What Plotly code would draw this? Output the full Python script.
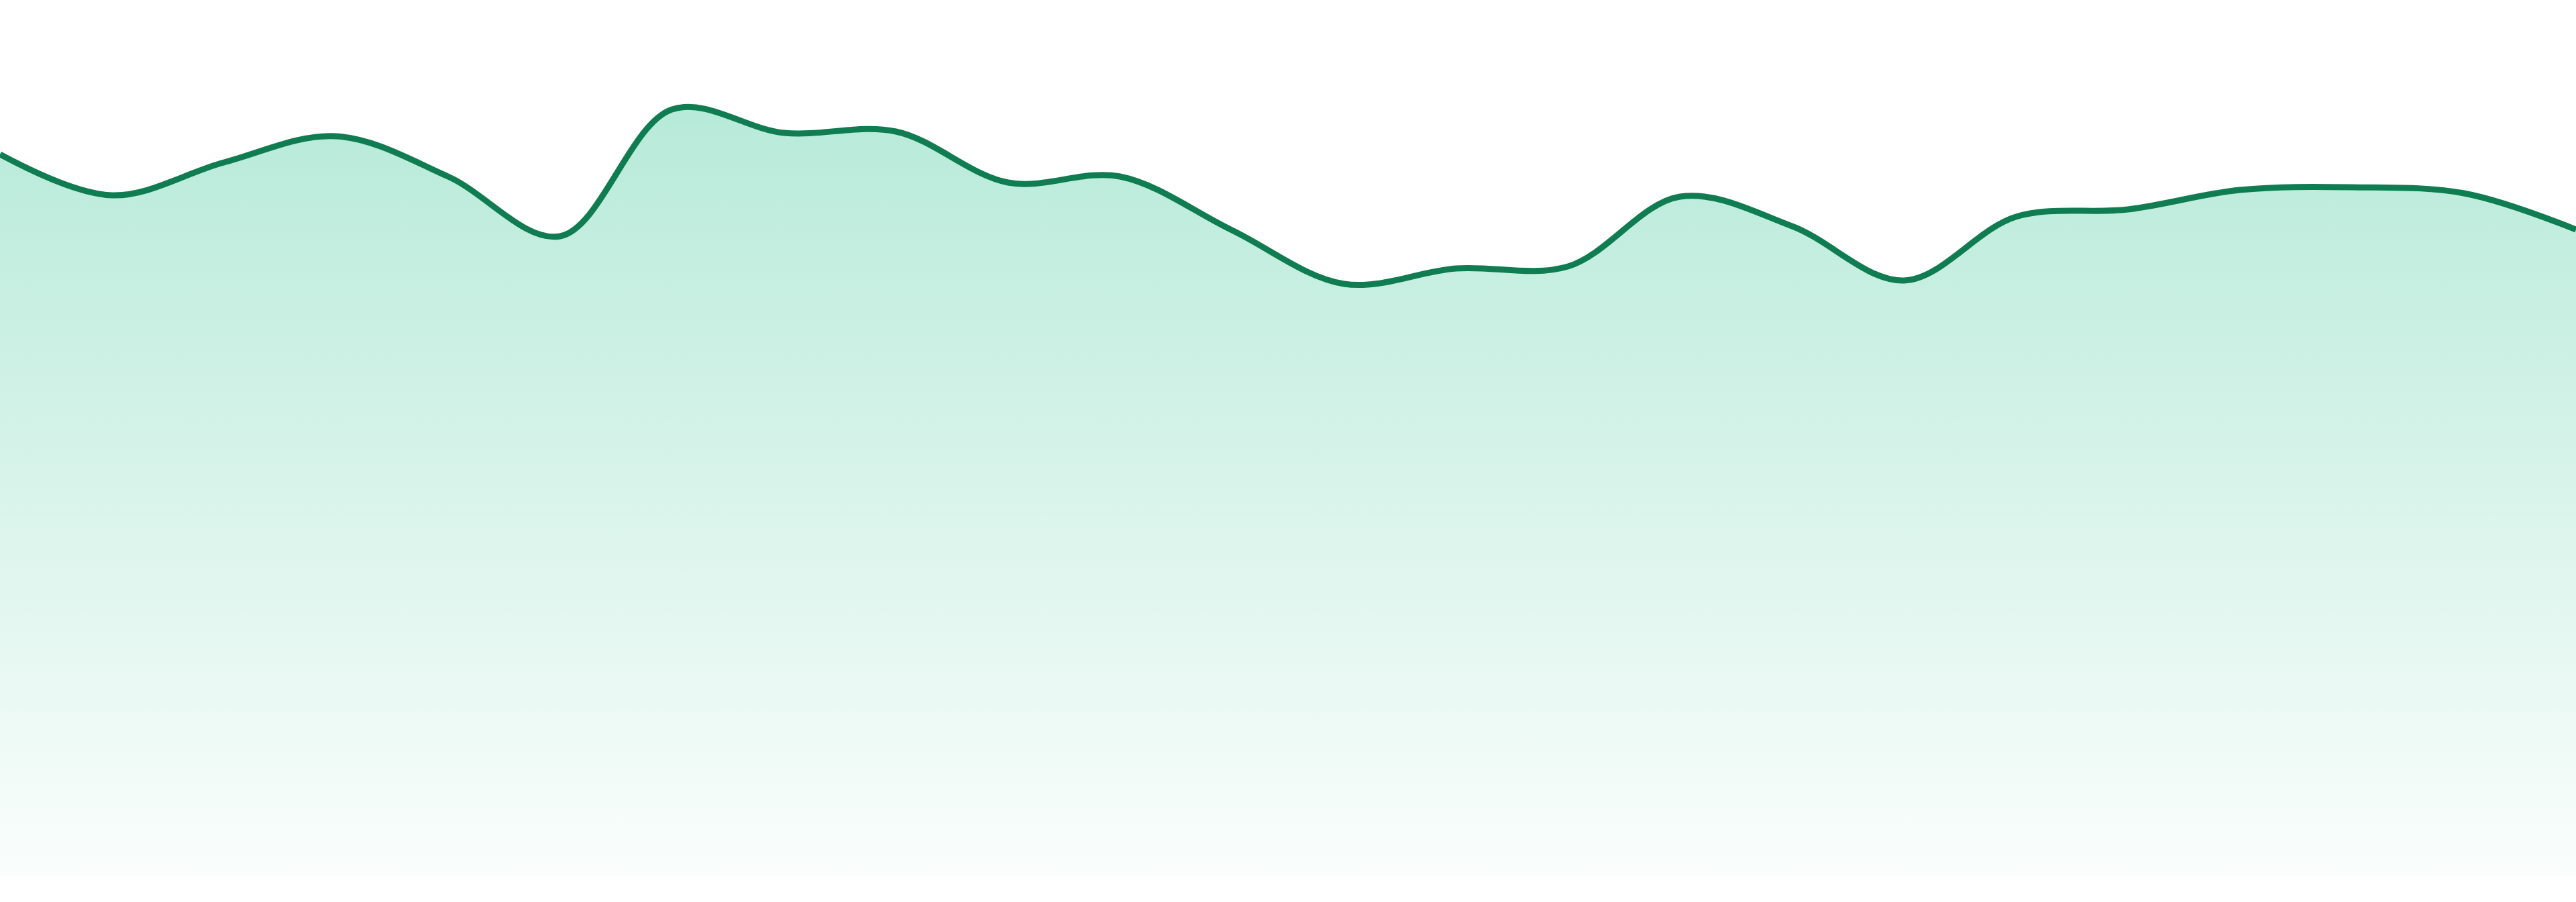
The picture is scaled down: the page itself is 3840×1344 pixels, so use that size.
import plotly.graph_objects as go

# 24 evenly spaced samples
days = list(range(24))
values = [107.5, 101.4, 106.3, 110.2, 104.2, 95.3, 114.2, 110.7,
          110.9, 103.3, 104.2, 96.2, 88.2, 90.5, 90.8, 101.2,
          96.8, 88.7, 98.2, 99.3, 102.2, 102.6, 101.7, 96.3]

line_color = "#107c51"

fig = go.Figure()

fig.add_trace(go.Scatter(
    x=days,
    y=values,
    mode="lines",
    line=dict(color=line_color, width=9, shape="spline", smoothing=1),
    fill="tozeroy",
    fillgradient=dict(
        type="vertical",
        start=0,
        stop=max(values),
        colorscale=[[0, "rgba(16,185,129,0.02)"], [1, "rgba(16,185,129,0.30)"]],
    ),
    hoverinfo="skip",
    showlegend=False,
))

fig.update_layout(
    width=3840,
    height=1344,
    margin=dict(l=0, r=0, t=0, b=39),
    paper_bgcolor="white",
    plot_bgcolor="white",
    xaxis=dict(visible=False, range=[days[0], days[-1]]),
    yaxis=dict(visible=False, range=[0, 130.5]),
)

# drop the default page margin so the chart sits flush with the window
fig.write_html("out.html",
               config={"displayModeBar": False},
               post_script="document.body.style.margin='0';document.body.style.overflow='hidden';")
